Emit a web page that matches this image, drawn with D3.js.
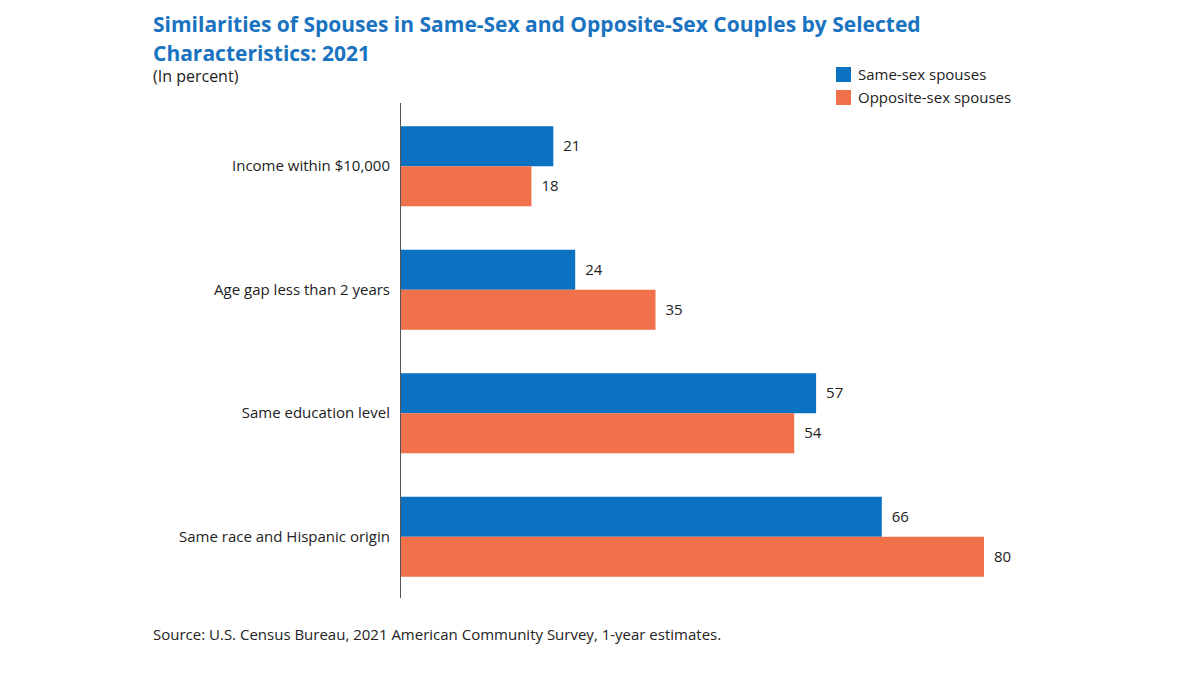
<!DOCTYPE html>
<html><head><meta charset="utf-8">
<script src="https://cdn.jsdelivr.net/npm/d3@7"></script>
<style>body{margin:0;background:#fff;font-family:"Open Sans",Roboto,sans-serif}</style>
</head><body><svg id="c" width="1200" height="675"></svg>
<script>
const categories = ["Income within $10,000","Age gap less than 2 years","Same education level","Same race and Hispanic origin"];
const sameSex = [21,24,57,66];
const oppositeSex = [18,35,54,80];
const seriesNames = ["Same-sex spouses","Opposite-sex spouses"];
const colors = ["#0a72c1","#f0714a"];

const svg = d3.select("#c");
const x = d3.scaleLinear().domain([0,80]).range([400,984]);
const y = d3.scaleBand().domain(categories).range([104.5,598.5]).paddingInner(0.352).paddingOuter(0.176);
const sub = d3.scaleBand().domain([0,1]).range([0,y.bandwidth()]);

svg.append("text").attr("x",153).attr("y",32).attr("fill","#1a73c0").attr("font-size",21).attr("font-weight",700)
  .text("Similarities of Spouses in Same-Sex and Opposite-Sex Couples by Selected");
svg.append("text").attr("x",153).attr("y",61).attr("fill","#1a73c0").attr("font-size",21).attr("font-weight",700)
  .text("Characteristics: 2021");
svg.append("text").attr("x",153).attr("y",82).attr("fill","#222").attr("font-size",16).text("(In percent)");

seriesNames.forEach((n,i)=>{
  svg.append("rect").attr("x",836).attr("y",67+i*23).attr("width",15).attr("height",15).attr("fill",colors[i]);
  svg.append("text").attr("x",858).attr("y",80+i*23).attr("font-size",15).attr("fill","#222").text(n);
});

[sameSex,oppositeSex].forEach((vals,s)=>{
  const g = svg.append("g");
  g.selectAll("rect").data(categories).join("rect")
    .attr("x",x(0)).attr("y",(d)=>y(d)+sub(s)).attr("height",sub.bandwidth())
    .attr("width",(d,i)=>x(vals[i])-x(0)).attr("fill",colors[s]);
  g.selectAll("text").data(categories).join("text")
    .attr("x",(d,i)=>x(vals[i])+10).attr("y",(d)=>y(d)+sub(s)+sub.bandwidth()/2+5)
    .attr("font-size",15).attr("fill","#222").text((d,i)=>vals[i]);
});

svg.append("g").selectAll("text").data(categories).join("text")
  .attr("x",390).attr("y",d=>y(d)+y.bandwidth()/2+5).attr("text-anchor","end")
  .attr("font-size",15).attr("fill","#222").text(d=>d);

svg.append("line").attr("x1",400.5).attr("x2",400.5).attr("y1",103).attr("y2",598).attr("stroke","#555").attr("stroke-width",1);

svg.append("text").attr("x",153).attr("y",640).attr("font-size",15).attr("fill","#222")
  .text("Source: U.S. Census Bureau, 2021 American Community Survey, 1-year estimates.");
</script></body></html>
